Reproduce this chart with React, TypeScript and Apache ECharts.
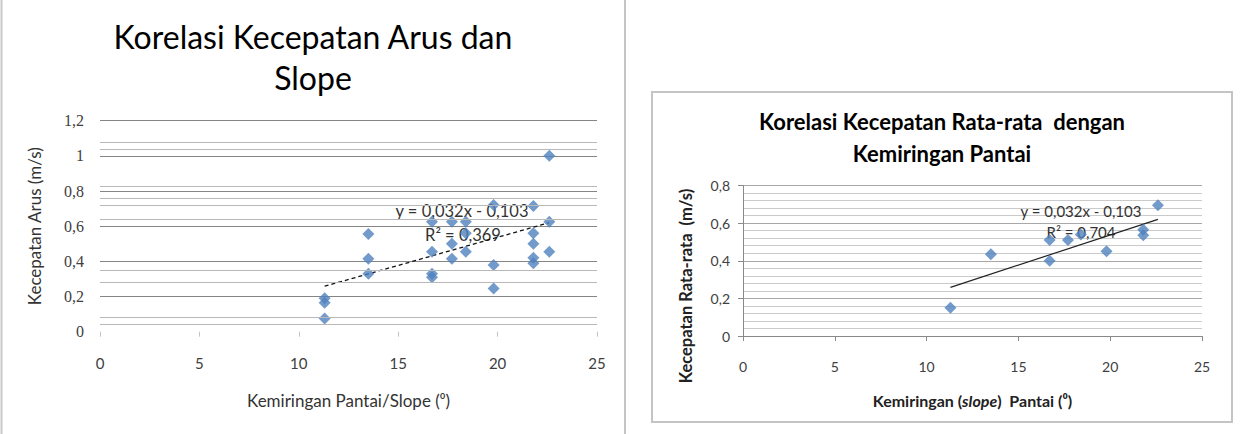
import React, { useEffect, useRef } from "react";
import * as echarts from "echarts";

// Current speed (m/s) against beach slope (degrees), every measurement
const arusSlope = [
  11.3, 11.3, 11.3,
  13.5, 13.5, 13.5,
  16.7, 16.7, 16.7, 16.7,
  17.7, 17.7, 17.7,
  18.4, 18.4, 18.4,
  19.8, 19.8, 19.8,
  21.8, 21.8, 21.8, 21.8, 21.8,
  22.6, 22.6, 22.6,
];
const arusSpeed = [
  0.19, 0.165, 0.075,
  0.555, 0.415, 0.33,
  0.625, 0.455, 0.33, 0.31,
  0.625, 0.5, 0.415,
  0.625, 0.56, 0.455,
  0.72, 0.38, 0.245,
  0.715, 0.56, 0.5, 0.42, 0.39,
  1.0, 0.625, 0.455,
];

// Mean speed per station
const rataSlope = [11.3, 13.5, 16.7, 16.7, 17.7, 18.4, 19.8, 21.8, 21.8, 22.6];
const rataSpeed = [0.15, 0.435, 0.51, 0.4, 0.51, 0.54, 0.45, 0.565, 0.535, 0.695];

// Linear trend shown on both charts
const trendSlope = 0.032;
const trendIntercept = -0.103;
const trendRange = [11.3, 22.6];
const r2Arus = 0.369;
const r2Rata = 0.704;

// Faint extra rules on the left chart
const faintLevels = [1.081, 1.039, 0.833, 0.757, 0.722, 0.637, 0.355, 0.279, 0.082, 0.042];

const xTickLabels = [0, 5, 10, 15, 20, 25];

const BLUE = "#4F81BD";
const TEXT = "#404040";

const comma = (v: number) => String(v).replace(".", ",");
const eqText = `y = ${comma(trendSlope)}x - ${comma(Math.abs(trendIntercept))}`;

const trendData = trendRange.map((x) => [x, trendSlope * x + trendIntercept]);

export default function App() {
  const ref = useRef<HTMLDivElement>(null);

  useEffect(() => {
    if (!ref.current) return;
    const chart = echarts.init(ref.current, undefined, { renderer: "svg" });

    const xMin = xTickLabels[0];
    const xMax = xTickLabels[xTickLabels.length - 1];

    const option = {
      animation: false,
      backgroundColor: "#ffffff",
      title: [
        {
          text: "Korelasi Kecepatan Arus dan\nSlope",
          left: 313,
          top: 16,
          textAlign: "center",
          padding: 0,
          textStyle: {
            fontFamily: "Lato",
            fontSize: 32,
            fontWeight: "normal",
            color: "#000",
            lineHeight: 41,
          },
        },
        {
          text: "Korelasi Kecepatan Rata-rata  dengan\nKemiringan Pantai",
          left: 942,
          top: 105,
          textAlign: "center",
          padding: 0,
          textStyle: {
            fontFamily: "Lato",
            fontSize: 22,
            fontWeight: "bold",
            color: "#000",
            lineHeight: 32,
          },
        },
      ],
      grid: [
        { left: 100, top: 120.7, width: 497, height: 211 },
        { left: 743, top: 185.5, width: 459, height: 150.5 },
      ],
      xAxis: [
        {
          gridIndex: 0,
          type: "value",
          min: xMin,
          max: xMax,
          interval: 5,
          axisLine: { show: false },
          axisTick: { show: true, length: 5, lineStyle: { color: "#c4c4c4" } },
          splitLine: { show: false },
          axisLabel: {
            margin: 24,
            color: TEXT,
            fontFamily: "Lato",
            fontSize: 15,
          },
          name: "Kemiringan Pantai/Slope (⁰)",
          nameLocation: "middle",
          nameGap: 60,
          nameTextStyle: { color: "#333", fontFamily: "Lato", fontSize: 17 },
        },
        {
          gridIndex: 1,
          type: "value",
          min: xMin,
          max: xMax,
          interval: 5,
          axisLine: { show: true, lineStyle: { color: "#8a8a8a" } },
          axisTick: { show: true, length: 5, lineStyle: { color: "#8a8a8a" } },
          splitLine: { show: false },
          axisLabel: {
            margin: 23,
            color: TEXT,
            fontFamily: "Lato",
            fontSize: 14,
          },
          name: "{a|Kemiringan (}{b|slope}{a|)  Pantai (⁰)}",
          nameLocation: "middle",
          nameGap: 56,
          nameTextStyle: {
            rich: {
              a: { color: "#222", fontFamily: "Lato", fontSize: 16, fontWeight: "bold" },
              b: { color: "#222", fontFamily: "Lato", fontSize: 16, fontWeight: "bold", fontStyle: "italic" },
            },
          },
        },
      ],
      yAxis: [
        {
          gridIndex: 0,
          type: "value",
          min: 0,
          max: 1.2,
          interval: 0.2,
          axisLine: { show: false },
          axisTick: { show: false },
          splitLine: { show: true, showMinLine: false, lineStyle: { color: "#858585", width: 1 } },
          axisLabel: {
            margin: 16,
            color: TEXT,
            fontFamily: "Liberation Serif",
            fontSize: 16,
            formatter: (v: number) => comma(v),
          },
          name: "Kecepatan Arus (m/s)",
          nameLocation: "middle",
          nameGap: 57,
          nameTextStyle: { color: "#333", fontFamily: "Lato", fontSize: 17 },
        },
        {
          gridIndex: 1,
          type: "value",
          min: 0,
          max: 0.8,
          interval: 0.2,
          axisLine: { show: true, lineStyle: { color: "#8a8a8a" } },
          axisTick: { show: true, length: 5, lineStyle: { color: "#8a8a8a" } },
          splitLine: { show: true, lineStyle: { color: "#a8a8a8", width: 1 } },
          minorTick: { show: false, splitNumber: 5 },
          minorSplitLine: { show: true, lineStyle: { color: "#cacaca", width: 1 } },
          axisLabel: {
            margin: 13,
            color: TEXT,
            fontFamily: "Lato",
            fontSize: 14,
            formatter: (v: number) => comma(v),
          },
        },
      ],
      series: [
        {
          type: "line",
          xAxisIndex: 0,
          yAxisIndex: 0,
          data: [],
          silent: true,
          markLine: {
            silent: true,
            symbol: "none",
            label: { show: false },
            lineStyle: { color: "#b8b8b8", type: "solid", width: 1 },
            data: faintLevels.map((v) => ({ yAxis: v })),
          },
        },
        {
          type: "line",
          xAxisIndex: 0,
          yAxisIndex: 0,
          data: trendData,
          showSymbol: false,
          symbol: "none",
          lineStyle: { color: "#111", width: 1.3, type: [4, 3] },
          z: 3,
        },
        {
          type: "scatter",
          xAxisIndex: 0,
          yAxisIndex: 0,
          symbol: "diamond",
          symbolSize: 12,
          itemStyle: { color: BLUE },
          data: arusSlope.map((x, i) => [x, arusSpeed[i]]),
          z: 4,
        },
        {
          type: "line",
          xAxisIndex: 1,
          yAxisIndex: 1,
          data: trendData,
          showSymbol: false,
          symbol: "none",
          lineStyle: { color: "#222", width: 1.2 },
          z: 3,
        },
        {
          type: "scatter",
          xAxisIndex: 1,
          yAxisIndex: 1,
          symbol: "diamond",
          symbolSize: 12,
          itemStyle: { color: BLUE },
          data: rataSlope.map((x, i) => [x, rataSpeed[i]]),
          z: 4,
        },
      ],
      graphic: [
        // panel edges
        { type: "line", shape: { x1: 1.5, y1: 0, x2: 1.5, y2: 434 }, style: { stroke: "#c8c8c8", lineWidth: 2 } },
        { type: "line", shape: { x1: 625, y1: 0, x2: 625, y2: 434 }, style: { stroke: "#c4c4c4", lineWidth: 2 } },
        {
          type: "rect",
          shape: { x: 652, y: 92, width: 580, height: 330 },
          style: { fill: "transparent", stroke: "#c4c4c4", lineWidth: 2 },
        },
        // right-hand value axis title
        {
          type: "text",
          x: 685.5,
          y: 286,
          rotation: Math.PI / 2,
          style: {
            text: "Kecepatan Rata-rata  (m/s)",
            align: "center",
            verticalAlign: "middle",
            font: "bold 16.5px Lato",
            fill: "#222",
          },
        },
        // trend equations
        {
          type: "text",
          z: 1,
          style: { text: eqText, x: 462, y: 211, align: "center", verticalAlign: "middle", font: "16.5px Lato", fill: "#333" },
        },
        {
          type: "text",
          z: 1,
          style: { text: `R² = ${comma(r2Arus)}`, x: 463, y: 235, align: "center", verticalAlign: "middle", font: "16.5px Lato", fill: "#333" },
        },
        {
          type: "text",
          z: 1,
          style: { text: eqText, x: 1081, y: 211, align: "center", verticalAlign: "middle", font: "15px Lato", fill: "#333" },
        },
        {
          type: "text",
          z: 1,
          style: { text: `R² = ${comma(r2Rata)}`, x: 1081, y: 232, align: "center", verticalAlign: "middle", font: "15px Lato", fill: "#333" },
        },
      ],
    };

    chart.setOption(option as any);
    return () => chart.dispose();
  }, []);

  return (
    <div
      ref={ref}
      style={{ position: "fixed", left: 0, top: 0, width: 1243, height: 434 }}
    />
  );
}
